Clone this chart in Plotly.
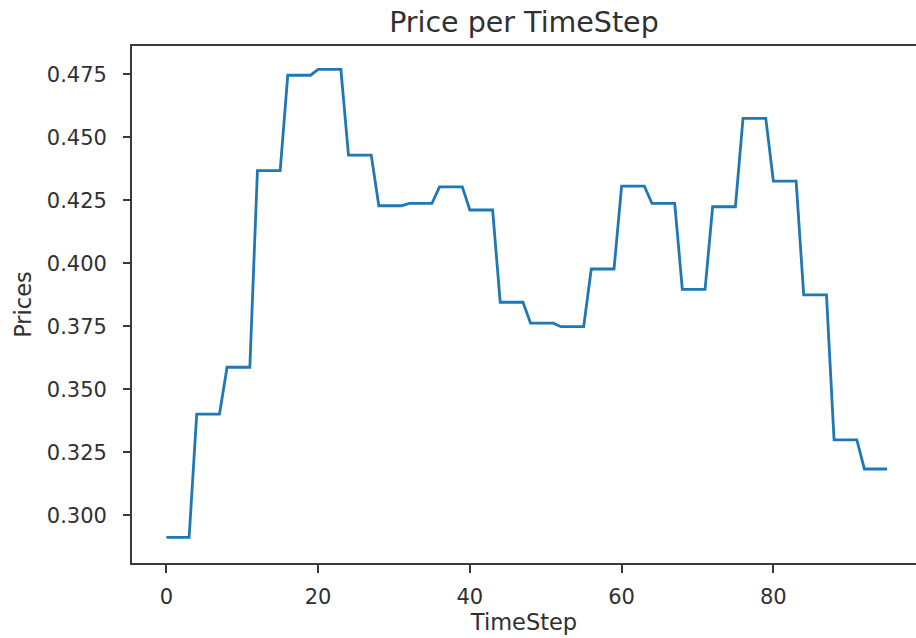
import plotly.graph_objects as go

# Hourly prices (each held for 4 quarter-hour timesteps)
hourly_prices = [0.2913, 0.3402, 0.3588, 0.4368, 0.4747, 0.4770, 0.4430, 0.4229,
                 0.4238, 0.4304, 0.4212, 0.3846, 0.3763, 0.3749, 0.3978, 0.4307,
                 0.4238, 0.3897, 0.4225, 0.4576, 0.4327, 0.3875, 0.3300, 0.3184]
steps_per_hour = 4
prices = [p for p in hourly_prices for _ in range(steps_per_hour)]
timesteps = list(range(len(prices)))

x_ticks = [0, 20, 40, 60, 80]
y_ticks = [0.300, 0.325, 0.350, 0.375, 0.400, 0.425, 0.450, 0.475]

FONT = "DejaVu Sans"
AX = "#3a3a3a"
TXT = "#303030"

fig = go.Figure(go.Scatter(x=timesteps, y=prices, mode="lines",
                           line=dict(color="#1f77b4", width=2.8)))

fig.update_layout(
    width=916, height=638,
    margin=dict(l=132, r=0, t=46, b=75, autoexpand=False),
    paper_bgcolor="white", plot_bgcolor="white",
    showlegend=False,
    font=dict(family=FONT, size=21, color=TXT),
    title=dict(text="Price per TimeStep", x=0.572, xanchor="center",
               y=1 - 22 / 638, yanchor="middle", yref="container",
               automargin=False,
               font=dict(family=FONT, size=28.5, color=TXT)),
)
fig.update_xaxes(
    range=[-4.53, 98.8], tickvals=x_ticks, ticktext=[str(v) for v in x_ticks],
    showgrid=False, zeroline=False, automargin=False,
    showline=True, linecolor=AX, linewidth=1.8, mirror=True,
    ticks="outside", ticklen=8, tickwidth=1.6, tickcolor=AX,
    ticklabelstandoff=6,
    title=dict(text="TimeStep", standoff=4, font=dict(size=22.5)),
)
fig.update_yaxes(
    range=[0.2811, 0.4863], tickvals=y_ticks, ticktext=[f"{v:.3f}" for v in y_ticks],
    showgrid=False, zeroline=False, automargin=False,
    showline=True, linecolor=AX, linewidth=1.8, mirror=False,
    ticks="outside", ticklen=7, tickwidth=1.6, tickcolor=AX,
    ticklabelstandoff=12,
    title=dict(text="Prices", standoff=9, font=dict(size=22.5)),
)

fig.write_html("out.html",
               config={"displayModeBar": False},
               post_script="document.body.style.margin='0';document.body.style.overflow='hidden';")
